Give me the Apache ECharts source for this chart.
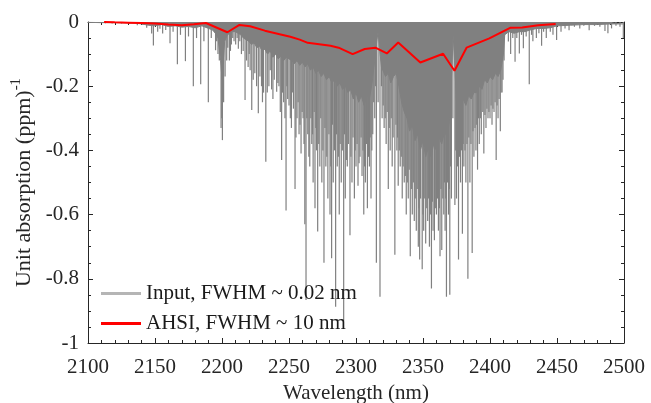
<!DOCTYPE html>
<html>
<head>
<meta charset="utf-8">
<script src="https://cdn.jsdelivr.net/npm/echarts@6/dist/echarts.min.js"></script>
<style>html,body{margin:0;padding:0;background:#fff}#c{width:651px;height:403px}</style>
</head>
<body>
<div id="c"></div>
<script>
// Dense unresolved absorption (envelope of the line forest)
const coreWl = [2100,2110,2120,2130,2136,2140,2145,2150,2155,2160,2165,2170,2175,2180,2185,2190,2193,2195,2197,2199,2200,2201,2202,2204,2206,2208,2210,2212,2214,2216,2218,2220,2222,2224,2226,2228,2230,2232,2234,2236,2238,2240,2242,2244,2246,2248,2250,2252,2254,2256,2258,2260,2262,2264,2266,2268,2270,2272,2274,2276,2278,2280,2282,2284,2286,2288,2290,2292,2294,2296,2298,2300,2302,2304,2306,2308,2310,2312,2314,2315.5,2316.5,2317.5,2319,2322,2324,2326,2328,2330,2332,2334,2336,2338,2340,2342,2344,2346,2348,2350,2352,2354,2356,2358,2360,2362,2364,2366,2368,2370,2371.5,2372.5,2373.5,2375,2378,2380,2382,2384,2386,2388,2390,2392,2394,2396,2398,2400,2402,2404,2406,2408,2410,2411,2414,2418,2422,2426,2430,2435,2440,2445,2450,2460,2470,2480,2490,2500];
const coreAbs = [-0.001,-0.002,-0.002,-0.003,-0.004,-0.006,-0.01,-0.012,-0.008,-0.014,-0.012,-0.016,-0.014,-0.018,-0.012,-0.02,-0.025,-0.035,-0.05,-0.12,-0.18,-0.12,-0.06,-0.04,-0.035,-0.03,-0.03,-0.035,-0.04,-0.05,-0.055,-0.06,-0.07,-0.065,-0.08,-0.075,-0.09,-0.085,-0.1,-0.09,-0.11,-0.1,-0.115,-0.105,-0.12,-0.11,-0.115,-0.12,-0.13,-0.12,-0.135,-0.125,-0.14,-0.13,-0.15,-0.14,-0.16,-0.15,-0.17,-0.16,-0.18,-0.17,-0.19,-0.18,-0.2,-0.19,-0.21,-0.2,-0.22,-0.21,-0.24,-0.22,-0.25,-0.23,-0.26,-0.23,-0.24,-0.19,-0.12,-0.06,-0.03,-0.08,-0.14,-0.17,-0.16,-0.19,-0.17,-0.16,-0.2,-0.25,-0.28,-0.3,-0.34,-0.32,-0.37,-0.35,-0.4,-0.37,-0.42,-0.39,-0.42,-0.38,-0.4,-0.36,-0.38,-0.34,-0.36,-0.3,-0.15,-0.04,-0.12,-0.25,-0.27,-0.24,-0.26,-0.23,-0.24,-0.22,-0.22,-0.2,-0.21,-0.18,-0.19,-0.17,-0.18,-0.16,-0.17,-0.15,-0.1,-0.04,-0.03,-0.035,-0.03,-0.03,-0.025,-0.02,-0.02,-0.018,-0.012,-0.01,-0.008,-0.008,-0.006,-0.006];
// Strong individual absorption lines
const lineWl = [2113,2118,2125,2131,2136.8,2141,2143.8,2147.5,2148.8,2152,2153.7,2155.7,2158,2161.2,2163.5,2166.7,2169,2172.7,2175,2178.6,2181,2184.1,2186.5,2189.8,2192,2195.2,2197,2199.3,2200.3,2201.2,2202.3,2203.5,2205.5,2207,2209,2212.2,2214.5,2217.2,2219.5,2222.2,2224.5,2227.1,2229.5,2231,2232.7,2235,2237,2239,2240.8,2242.5,2244.5,2246,2247.8,2249,2251,2252.5,2254.5,2256,2257.5,2259,2260.5,2261.8,2262.7,2264,2265.5,2267,2268,2269.4,2270.5,2271.4,2273,2274.5,2276.1,2277.5,2279,2280.6,2281.8,2283,2284.8,2286,2287.5,2289,2290.8,2292,2293.5,2295.5,2297,2298.8,2300,2301.5,2303,2304.5,2305.8,2307,2308.5,2310,2311.2,2312.5,2314,2315.2,2316.5,2317.9,2319.5,2321,2322.5,2324.1,2325.5,2327,2329,2330.5,2331.5,2333,2334.5,2336,2337.5,2339,2340.5,2342,2343.5,2345,2346.5,2347.5,2349.4,2350.5,2352,2353.5,2354.8,2356.3,2357.5,2358.5,2360,2361.5,2362.7,2364,2365.5,2366.5,2367.5,2369,2370,2371.2,2372.3,2373.8,2375,2376.5,2378,2379.4,2380.5,2382,2383.5,2385,2386.7,2388,2389.5,2390.7,2392,2393.5,2395.4,2397,2398.5,2400,2401.5,2403,2404.6,2406,2407.7,2409,2410.5,2413.7,2415.4,2417,2418.7,2420,2421.9,2423.5,2424.9,2427,2429.3,2431,2432,2434.6,2436.5,2438.5,2440,2442,2445,2447,2449.7,2453,2456,2459,2463,2467,2470,2474,2478,2482,2485.8,2488,2490.7,2494,2497,2499.5];
const lineAbs = [-0.004,-0.005,-0.005,-0.006,-0.01,-0.009,-0.018,-0.036,-0.073,-0.03,-0.021,-0.036,-0.025,-0.066,-0.03,-0.132,-0.04,-0.122,-0.045,-0.2,-0.05,-0.194,-0.06,-0.25,-0.05,-0.088,-0.1,-0.33,-0.368,-0.25,-0.17,-0.12,-0.12,-0.07,-0.06,-0.083,-0.1,-0.243,-0.14,-0.274,-0.16,-0.284,-0.2,-0.22,-0.435,-0.2,-0.21,-0.18,-0.217,-0.2,-0.43,-0.25,-0.587,-0.24,-0.3,-0.22,-0.52,-0.3,-0.35,-0.41,-0.3,-0.63,-0.866,-0.35,-0.45,-0.38,-0.5,-0.58,-0.4,-0.653,-0.45,-0.5,-0.75,-0.45,-0.55,-0.6,-0.736,-0.5,-0.887,-0.45,-0.6,-0.5,-0.93,-0.55,-0.45,-0.664,-0.5,-0.55,-0.45,-0.51,-0.42,-0.48,-0.6,-0.5,-0.58,-0.45,-0.55,-0.35,-0.3,-0.75,-0.25,-0.856,-0.3,-0.33,-0.38,-0.52,-0.4,-0.45,-0.725,-0.4,-0.51,-0.45,-0.55,-0.5,-0.6,-0.55,-0.73,-0.6,-0.62,-0.65,-0.7,-0.74,-0.77,-0.65,-0.69,-0.62,-0.7,-0.83,-0.65,-0.68,-0.6,-0.65,-0.73,-0.71,-0.6,-0.65,-0.856,-0.6,-0.85,-0.55,-0.3,-0.57,-0.55,-0.74,-0.5,-0.66,-0.45,-0.5,-0.8,-0.5,-0.72,-0.42,-0.4,-0.46,-0.38,-0.35,-0.41,-0.33,-0.3,-0.3,-0.32,-0.28,-0.43,-0.3,-0.34,-0.22,-0.12,-0.061,-0.1,-0.05,-0.124,-0.05,-0.098,-0.04,-0.082,-0.045,-0.194,-0.04,-0.06,-0.05,-0.035,-0.074,-0.03,-0.05,-0.03,-0.04,-0.056,-0.03,-0.02,-0.026,-0.015,-0.02,-0.012,-0.026,-0.012,-0.015,-0.028,-0.035,-0.02,-0.012,-0.015,-0.05];
// Medium-strength lines filling the forest
const weakWl = [2196,2198,2199.8,2204.3,2206.3,2208,2210.2,2211.3,2213.3,2215.8,2218.3,2220.3,2221,2223.3,2225.8,2228.3,2230.2,2233.8,2236,2238,2241.7,2243.5,2245.2,2247,2248.4,2250,2251.8,2253.3,2255.2,2256.8,2258.2,2259.8,2261.2,2263.3,2264.8,2266.3,2267.6,2268.8,2270,2272.2,2273.7,2275.3,2276.8,2278.2,2279.8,2281.2,2282.4,2283.9,2285.4,2286.8,2288.2,2289.8,2291.4,2292.8,2294.3,2296.2,2297.8,2299.4,2300.8,2302.3,2303.8,2305.2,2306.4,2307.8,2309.3,2310.6,2311.8,2313.2,2314.6,2319,2320.3,2321.8,2323.3,2324.8,2326.3,2327.7,2329.8,2331,2332.3,2333.8,2335.2,2336.8,2338.3,2339.7,2341.3,2342.8,2344.2,2345.7,2347,2348.2,2350,2351.3,2352.8,2354.2,2355.5,2357,2359.2,2360.8,2362.2,2363.4,2364.8,2366,2367,2368.3,2369.5,2370.6,2374.4,2375.8,2377.2,2378.7,2380,2381.3,2382.8,2384.2,2385.8,2387.3,2388.8,2390.1,2391.4,2392.8,2394.6,2396.2,2397.7,2399.2,2400.8,2402.2,2403.8,2405.3,2406.8,2408.3,2409.7];
const weakAbs = [-0.06,-0.12,-0.3,-0.08,-0.09,-0.05,-0.07,-0.05,-0.06,-0.09,-0.12,-0.1,-0.15,-0.18,-0.2,-0.17,-0.25,-0.22,-0.15,-0.24,-0.19,-0.28,-0.22,-0.3,-0.2,-0.26,-0.33,-0.27,-0.36,-0.25,-0.32,-0.28,-0.38,-0.3,-0.42,-0.3,-0.35,-0.28,-0.33,-0.38,-0.3,-0.4,-0.33,-0.42,-0.35,-0.45,-0.32,-0.4,-0.35,-0.42,-0.38,-0.4,-0.35,-0.43,-0.38,-0.42,-0.36,-0.4,-0.38,-0.44,-0.36,-0.4,-0.45,-0.38,-0.42,-0.36,-0.4,-0.25,-0.2,-0.2,-0.26,-0.3,-0.28,-0.33,-0.3,-0.36,-0.32,-0.36,-0.4,-0.42,-0.45,-0.48,-0.5,-0.46,-0.52,-0.5,-0.55,-0.52,-0.58,-0.55,-0.6,-0.55,-0.58,-0.55,-0.6,-0.56,-0.58,-0.55,-0.58,-0.52,-0.55,-0.5,-0.55,-0.5,-0.52,-0.45,-0.4,-0.45,-0.42,-0.4,-0.38,-0.4,-0.38,-0.36,-0.38,-0.34,-0.33,-0.32,-0.3,-0.3,-0.28,-0.29,-0.27,-0.28,-0.26,-0.27,-0.25,-0.26,-0.24,-0.22,-0.18];
// AHSI convolved spectrum
const ahsiWl = [2112,2120,2130,2140,2150,2160,2170,2179,2188,2204,2213,2221,2232,2243,2251,2258,2264,2274,2281,2287,2297.5,2306.5,2314.5,2323,2331.5,2348,2365,2373.5,2382.5,2399.5,2415,2424,2436,2449];
const ahsiAbs = [0,-0.001,-0.002,-0.003,-0.005,-0.008,-0.01,-0.007,-0.003,-0.032,-0.009,-0.013,-0.027,-0.038,-0.046,-0.055,-0.065,-0.07,-0.074,-0.08,-0.1,-0.084,-0.08,-0.098,-0.064,-0.126,-0.099,-0.152,-0.08,-0.051,-0.018,-0.017,-0.01,-0.006];
const xTicks = [2100,2150,2200,2250,2300,2350,2400,2450,2500];
const yTicks = [-1,-0.8,-0.6,-0.4,-0.2,0];

const INPUT = 'Input, FWHM ~ 0.02 nm';
const AHSI = 'AHSI, FWHM ~ 10 nm';
const FONT = "'Liberation Serif', 'Times New Roman', serif";
const GRAY = '#808080';
const INK = '#262626';

const zip = (a, b) => a.map((v, i) => [v, b[i]]);

const chart = echarts.init(document.getElementById('c'), null, {renderer: 'canvas'});
const tickStyle = {color: INK, width: 1};
function mkAxis(extra) {
  return Object.assign({
    axisLine: {show: true, onZero: false, lineStyle: {color: INK, width: 1}},
    axisTick: {show: true, inside: true, length: 5, lineStyle: tickStyle},
    splitLine: {show: false}
  }, extra);
}
chart.setOption({
  animation: false,
  backgroundColor: '#fff',
  grid: {left: 88, right: 27, top: 22, bottom: 60, containLabel: false, outerBoundsMode: 'none'},
  legend: {
    orient: 'vertical', left: 96, top: 278,
    itemWidth: 40, itemHeight: 3, itemGap: 9, icon: 'rect',
    textStyle: {fontFamily: FONT, fontSize: 21, color: '#1a1a1a', lineHeight: 21},
    data: [
      {name: INPUT, itemStyle: {color: '#b5b5b5'}},
      {name: AHSI, itemStyle: {color: '#ff0000'}}
    ]
  },
  xAxis: [
    mkAxis({
      type: 'value', min: xTicks[0], max: xTicks[xTicks.length - 1], interval: 50,
      minorTick: {show: true, splitNumber: 5, length: 3, lineStyle: tickStyle},
      axisLabel: {fontFamily: FONT, fontSize: 21, color: INK, margin: 14, formatter: v => String(v)},
      name: 'Wavelength (nm)', nameLocation: 'middle', nameGap: 40,
      nameTextStyle: {fontFamily: FONT, fontSize: 21, color: INK}
    }),
    mkAxis({
      type: 'value', position: 'top', min: xTicks[0], max: xTicks[xTicks.length - 1], interval: 50,
      minorTick: {show: true, splitNumber: 5, length: 3, lineStyle: tickStyle},
      axisLabel: {show: false}
    })
  ],
  yAxis: [
    mkAxis({
      type: 'value', min: yTicks[0], max: yTicks[yTicks.length - 1], interval: 0.2,
      minorTick: {show: true, splitNumber: 4, length: 3, lineStyle: tickStyle},
      axisLabel: {fontFamily: FONT, fontSize: 21, color: INK, margin: 9, formatter: v => String(+v.toFixed(1))},
      name: '{a|Unit absorption (ppm)}{s|-1}', nameLocation: 'middle', nameGap: 38, nameRotate: 90,
      nameTextStyle: {
        fontFamily: FONT, fontSize: 22, color: INK,
        rich: {
          a: {fontFamily: FONT, fontSize: 22, color: INK, lineHeight: 26, verticalAlign: 'bottom'},
          s: {fontFamily: FONT, fontSize: 15, color: INK, lineHeight: 26, verticalAlign: 'top'}
        }
      }
    }),
    mkAxis({
      type: 'value', position: 'right', min: yTicks[0], max: yTicks[yTicks.length - 1], interval: 0.2,
      minorTick: {show: true, splitNumber: 4, length: 3, lineStyle: tickStyle},
      axisLabel: {show: false}
    })
  ],
  series: [
    {
      name: INPUT, type: 'line', data: zip(coreWl, coreAbs), symbol: 'none',
      lineStyle: {color: GRAY, width: 1}, itemStyle: {color: GRAY},
      areaStyle: {color: GRAY, opacity: 1}, z: 1, silent: true
    },
    {
      name: INPUT, type: 'bar', data: zip(lineWl, lineAbs).concat(zip(weakWl, weakAbs)), barWidth: 1.2,
      barGap: '-100%', itemStyle: {color: GRAY}, z: 2, silent: true
    },
    {
      name: AHSI, type: 'line', data: zip(ahsiWl, ahsiAbs), symbol: 'none',
      lineStyle: {color: '#ff0000', width: 2}, itemStyle: {color: '#ff0000'}, z: 5
    }
  ]
});
</script>
</body>
</html>
